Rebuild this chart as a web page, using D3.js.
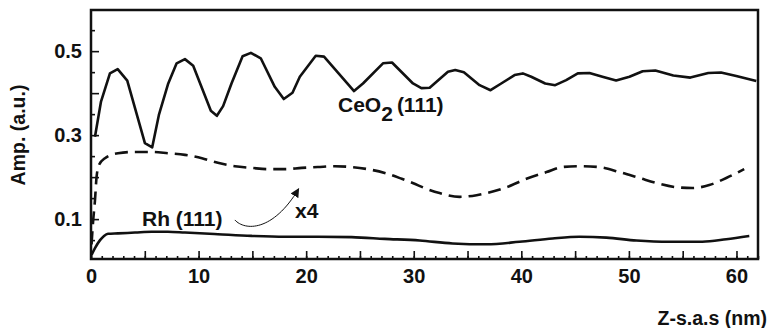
<!DOCTYPE html>
<html>
<head>
<meta charset="utf-8">
<script src="https://cdn.jsdelivr.net/npm/d3@7"></script>
<style>
  body { margin: 0; background: #fff; }
  svg text { font-family: "Liberation Sans", Arial, Helvetica, sans-serif; font-weight: bold; fill: #111; }
</style>
</head>
<body>
<script>
// CeO2 (111) amplitude vs depth
var ceo2Z   = [0.37, 0.93, 1.76, 2.48, 3.37, 5.01, 5.69, 6.31, 7.18, 7.96, 8.73, 9.50, 11.14, 11.70, 12.28, 13.06,
               14.09, 14.86, 15.78, 17.08, 17.92, 18.73, 19.41, 20.89, 21.66, 24.45, 25.28, 27.14, 27.98, 29.93,
               30.71, 31.48, 33.18, 33.86, 34.66, 36.12, 37.14, 38.13, 39.37, 40.14, 40.92, 42.22, 43.15, 44.17,
               45.25, 46.33, 47.54, 48.81, 50.05, 51.28, 52.46, 54.13, 55.71, 57.38, 58.56, 59.98, 61.84];
var ceo2Amp = [0.296, 0.380, 0.447, 0.457, 0.430, 0.281, 0.271, 0.348, 0.423, 0.471, 0.481, 0.465, 0.358, 0.346, 0.369, 0.423,
               0.488, 0.496, 0.483, 0.415, 0.386, 0.401, 0.439, 0.489, 0.487, 0.405, 0.423, 0.471, 0.473, 0.423,
               0.412, 0.413, 0.451, 0.455, 0.450, 0.419, 0.407, 0.423, 0.443, 0.447, 0.439, 0.423, 0.419, 0.431,
               0.447, 0.448, 0.439, 0.430, 0.439, 0.452, 0.454, 0.442, 0.437, 0.448, 0.449, 0.441, 0.429];

// Rh (111) scaled x4 (dashed)
var rh4Z   = [0.05, 0.19, 0.37, 0.51, 0.74, 1.30, 2.51, 4.09, 5.66, 7.15, 8.73, 10.31, 11.79, 13.37, 14.95, 16.43,
              18.01, 19.59, 21.08, 22.66, 24.23, 25.72, 27.30, 28.88, 29.90, 31.20, 32.40, 34.26, 35.84, 36.77,
              38.63, 40.48, 42.34, 43.83, 45.40, 47.26, 49.12, 50.97, 52.55, 54.41, 55.90, 57.47, 59.05, 60.72];
var rh4Amp = [0.040, 0.093, 0.145, 0.198, 0.229, 0.245, 0.257, 0.260, 0.260, 0.257, 0.253, 0.245, 0.234, 0.226, 0.222, 0.219,
              0.219, 0.222, 0.224, 0.226, 0.224, 0.219, 0.210, 0.196, 0.186, 0.172, 0.162, 0.153, 0.157, 0.162,
              0.176, 0.196, 0.212, 0.224, 0.226, 0.224, 0.212, 0.198, 0.186, 0.176, 0.174, 0.181, 0.198, 0.219];

// Rh (111)
var rhZ   = [0.05, 0.37, 0.84, 1.21, 1.58, 2.51, 4.09, 5.64, 7.15, 8.73, 11.79, 14.92, 18.01, 21.08, 24.23, 27.30,
             30.55, 33.61, 36.77, 39.83, 42.90, 45.40, 47.91, 50.70, 53.76, 56.82, 59.05, 61.19];
var rhAmp = [0.0145, 0.031, 0.050, 0.060, 0.065, 0.066, 0.068, 0.070, 0.070, 0.068, 0.064, 0.060, 0.058, 0.058, 0.057, 0.053,
             0.049, 0.042, 0.040, 0.046, 0.054, 0.058, 0.056, 0.049, 0.046, 0.046, 0.052, 0.060];

var xMajor = d3.range(0, 61, 5);
var xMinor = d3.range(0, 63, 1);
var yMajor = [0.1, 0.2, 0.3, 0.4, 0.5];
var yMinor = [0.05, 0.15, 0.25, 0.35, 0.45, 0.55];
var yLabeled = [0.1, 0.3, 0.5];

var width = 769, height = 328;
var pLeft = 91, pRight = 758, pTop = 10, pBottom = 259;

var svg = d3.select("body").append("svg")
  .attr("width", width)
  .attr("height", height);

var x = d3.scaleLinear().domain([0, 62]).range([pLeft, pRight]);
var y = d3.scaleLinear().domain([0.005, 0.598]).range([pBottom, pTop]);

function pts(zs, as) {
  return zs.map(function(z, i) { return [z, as[i]]; });
}

var line = d3.line()
  .x(function(d) { return x(d[0]); })
  .y(function(d) { return y(d[1]); });

// axes (ticks pointing inward)
svg.append("g")
  .attr("transform", "translate(0," + pBottom + ")")
  .call(d3.axisBottom(x).tickValues(xMinor).tickSize(-3).tickFormat(""))
  .call(function(g) { g.select(".domain").remove(); });

var xAx = svg.append("g")
  .attr("transform", "translate(0," + pBottom + ")")
  .call(d3.axisBottom(x).tickValues(xMajor).tickSize(-8).tickPadding(10)
    .tickFormat(function(d) { return d % 10 === 0 ? d : ""; }))
  .call(function(g) { g.select(".domain").remove(); });
xAx.selectAll("text").style("font-size", "20px").attr("dy", "0.68em");

svg.append("g")
  .attr("transform", "translate(" + pLeft + ",0)")
  .call(d3.axisLeft(y).tickValues(yMinor).tickSize(-4).tickFormat(""))
  .call(function(g) { g.select(".domain").remove(); });

var yAx = svg.append("g")
  .attr("transform", "translate(" + pLeft + ",0)")
  .call(d3.axisLeft(y).tickValues(yMajor).tickSize(-8).tickPadding(9)
    .tickFormat(function(d) { return yLabeled.indexOf(d) >= 0 ? d3.format(".1f")(d) : ""; }))
  .call(function(g) { g.select(".domain").remove(); });
yAx.selectAll("text").style("font-size", "20px");

svg.selectAll(".tick line").attr("stroke", "#111").attr("stroke-width", 1.6);
svg.selectAll(".tick text").style("fill", "#111");

// frame
svg.append("rect")
  .attr("x", pLeft).attr("y", pTop)
  .attr("width", pRight - pLeft).attr("height", pBottom - pTop)
  .attr("fill", "none").attr("stroke", "#111").attr("stroke-width", 2.5);

// curves
svg.append("path")
  .datum(pts(ceo2Z, ceo2Amp))
  .attr("d", line)
  .attr("fill", "none").attr("stroke", "#111").attr("stroke-width", 2.6)
  .attr("stroke-linejoin", "round");

svg.append("path")
  .datum(pts(rh4Z, rh4Amp))
  .attr("d", line.curve(d3.curveMonotoneX))
  .attr("fill", "none").attr("stroke", "#111").attr("stroke-width", 2.6)
  .attr("stroke-dasharray", "13,7");

svg.append("path")
  .datum(pts(rhZ, rhAmp))
  .attr("d", line.curve(d3.curveMonotoneX))
  .attr("fill", "none").attr("stroke", "#111").attr("stroke-width", 2.6);

// labels
svg.append("text")
  .attr("transform", "translate(25,135) rotate(-90)")
  .attr("text-anchor", "middle")
  .style("font-size", "19.5px")
  .text("Amp. (a.u.)");

svg.append("text")
  .attr("x", 767).attr("y", 325)
  .attr("text-anchor", "end")
  .style("font-size", "19.5px")
  .text("Z-s.a.s (nm)");

var ceLab = svg.append("text")
  .attr("x", 338).attr("y", 112)
  .style("font-size", "21px");
ceLab.append("tspan").text("CeO");
ceLab.append("tspan").attr("dy", 9).text("2");
ceLab.append("tspan").attr("dy", -9).attr("dx", 4).text("(111)");

svg.append("text")
  .attr("x", 142).attr("y", 226)
  .style("font-size", "21px")
  .text("Rh (111)");

svg.append("text")
  .attr("x", 295).attr("y", 218)
  .style("font-size", "21px")
  .text("x4");

// arrow from Rh label to scaled curve
svg.append("defs").append("marker")
  .attr("id", "head")
  .attr("viewBox", "0 0 10 10")
  .attr("refX", 9).attr("refY", 5)
  .attr("markerWidth", 9).attr("markerHeight", 9)
  .attr("markerUnits", "userSpaceOnUse")
  .attr("orient", "auto")
  .append("path").attr("d", "M0,0L10,5L0,10z").attr("fill", "#111");

var a0 = [x(13.37), y(0.098)], a1 = [x(19.3), y(0.172)];
svg.append("path")
  .attr("d", "M" + a0 + "C" + [a0[0] + 10, a0[1] + 11] + " " + [a0[0] + 38, a0[1] + 12] + " " + a1)
  .attr("fill", "none").attr("stroke", "#111").attr("stroke-width", 1)
  .attr("marker-end", "url(#head)");
</script>
</body>
</html>
